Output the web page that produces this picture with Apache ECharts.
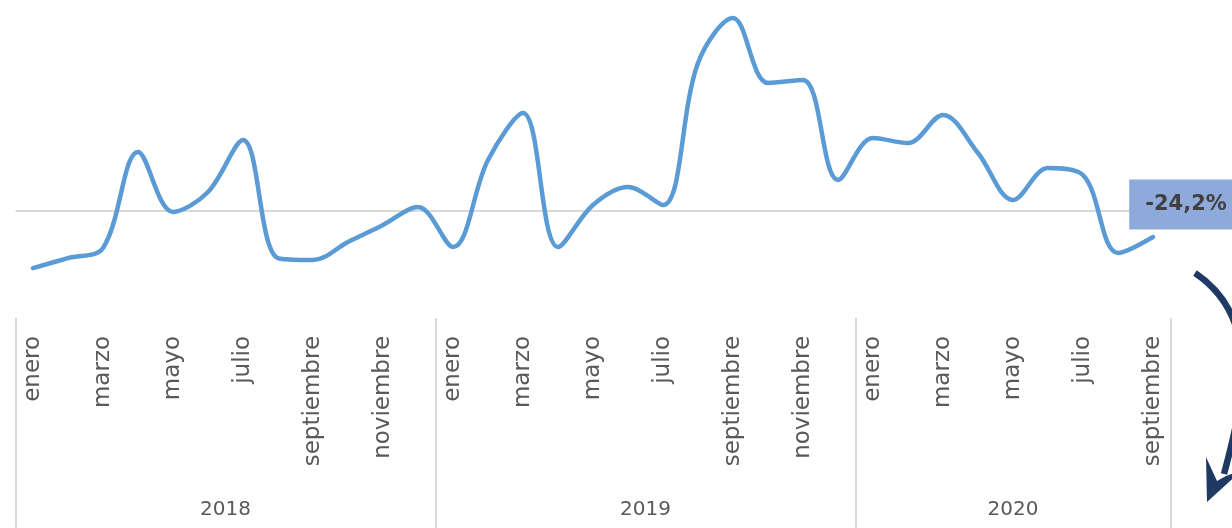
<!DOCTYPE html>
<html>
<head>
<meta charset="utf-8">
<script src="https://cdn.jsdelivr.net/npm/echarts@6/dist/echarts.min.js"></script>
<style>
html,body{margin:0;padding:0;background:#fff;}
#c{width:1232px;height:528px;}
</style>
</head>
<body>
<div id="c"></div>
<script>
// ---- data ----
var monthNames = ['enero','febrero','marzo','abril','mayo','junio','julio','agosto','septiembre','octubre','noviembre','diciembre'];
var years = ['2018','2019','2020'];
var monthsPerYear = [12, 12, 9];
var values = [
  -53.1, -43.8, -34.4, 54.9, -0.9, 17.7, 66.1, -43.8, -45.6, -28.9, -13.0, 3.7,
  -33.5, 47.5, 91.2, -33.5, 5.6, 22.3, 5.6, 137.8, 179.7, 119.2, 122.0, 28.9,
  68.0, 63.3, 89.4, 54.0, 10.2, 40.0, 33.5, -39.1, -24.2
];
var lastLabel = '-24,2%';

// ---- derived ----
var categories = [];
var yearStarts = [];
var yearMids = [];
var acc = 0;
years.forEach(function (y, k) {
  yearStarts.push(acc);
  yearMids.push(acc + monthsPerYear[k] / 2);
  for (var m = 0; m < monthsPerYear[k]; m++) categories.push(monthNames[m] + ' ' + y);
  acc += monthsPerYear[k];
});
var total = acc;
var tickVals = yearStarts.concat([total]);

var chart = echarts.init(document.getElementById('c'));
var lastIdx = values.length - 1;

chart.setOption({
  backgroundColor: '#ffffff',
  animation: false,
  grid: { left: 15.5, right: 61.5, top: 6.87, bottom: 231.05, containLabel: false },
  xAxis: [
    {
      type: 'category',
      data: categories,
      boundaryGap: true,
      position: 'bottom',
      offset: 21,
      axisLine: { show: false },
      axisTick: { show: false },
      axisLabel: {
        interval: 1,
        rotate: 90,
        margin: 18,
        fontFamily: 'DejaVu Sans',
        fontSize: 23,
        color: '#595959',
        formatter: function (v) { return v.split(' ')[0]; }
      },
      splitLine: { show: false }
    },
    {
      type: 'value',
      min: 0,
      max: total,
      position: 'bottom',
      offset: 21,
      axisLine: { show: false },
      axisTick: {
        show: true,
        customValues: tickVals,
        length: 212,
        lineStyle: { color: '#d9d9d9', width: 2 }
      },
      axisLabel: {
        show: true,
        customValues: yearMids,
        margin: 182,
        fontFamily: 'DejaVu Sans',
        fontSize: 20,
        color: '#595959',
        formatter: function (v) {
          var i = yearMids.indexOf(v);
          return i >= 0 ? years[i] : '';
        }
      },
      splitLine: { show: false }
    }
  ],
  yAxis: {
    type: 'value',
    min: -80,
    max: 190,
    show: false,
    splitLine: { show: false }
  },
  series: [
    {
      type: 'line',
      xAxisIndex: 0,
      data: values,
      smooth: 0.35,
      showSymbol: false,
      symbol: 'none',
      lineStyle: { color: '#5b9bd5', width: 4.5, cap: 'round' },
      markLine: {
        silent: true,
        symbol: 'none',
        label: { show: false },
        lineStyle: { color: '#d9d9d9', width: 2, type: 'solid' },
        data: [{ yAxis: 0 }],
        z: 1
      },
      markPoint: {
        silent: true,
        symbol: 'rect',
        symbolSize: 1,
        itemStyle: { color: 'rgba(0,0,0,0)' },
        data: [{ coord: [lastIdx, values[lastIdx]] }],
        label: {
          show: true,
          position: 'top',
          distance: 7,
          offset: [33, 0],
          formatter: lastLabel,
          fontFamily: 'DejaVu Sans',
          fontWeight: 'bold',
          fontSize: 21,
          color: '#404040',
          backgroundColor: '#8eaadb',
          padding: [15, 16, 14, 16]
        }
      }
    }
  ],
  graphic: [
    {
      type: 'bezierCurve',
      silent: true,
      shape: { x1: 1195, y1: 273, cpx1: 1262, cpy1: 318, cpx2: 1244, cpy2: 400, x2: 1224, y2: 474 },
      style: { stroke: '#1f3864', lineWidth: 6.5, fill: null }
    },
    {
      type: 'polygon',
      silent: true,
      shape: { points: [[1207, 502], [1206, 457], [1217, 481], [1226, 476], [1242, 470]] },
      style: { fill: '#1f3864' }
    }
  ]
});
</script>
</body>
</html>
